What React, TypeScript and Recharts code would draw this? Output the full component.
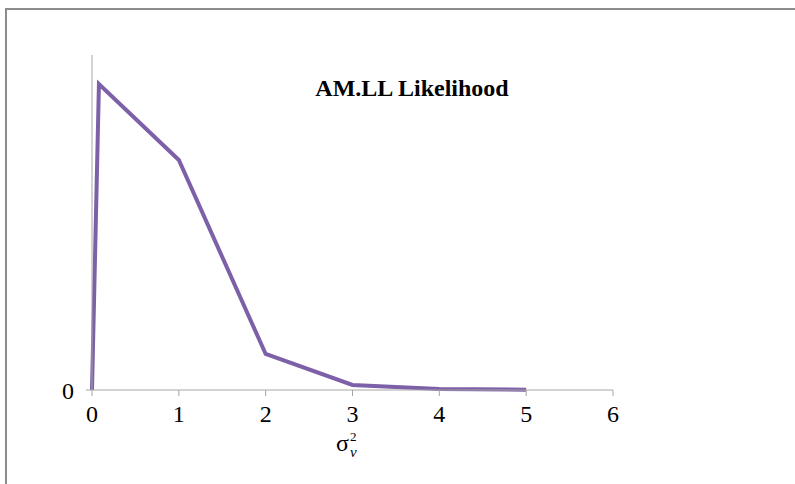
import { CartesianGrid, Line, LineChart, XAxis, YAxis } from "recharts";

const sigmaV = [0, 0.08, 1, 2, 3, 4, 5];
const likelihood = [0, 306, 230, 36, 5, 1, 0.3];
const xTicks = [0, 1, 2, 3, 4, 5, 6];
const yTicks = [0];

const data = sigmaV.map((x, i) => ({ x, y: likelihood[i] }));

const serif = "'Liberation Serif', 'DejaVu Serif', serif";
const axisGray = "#A6A6A6";

export default function App() {
  return (
    <div style={{ position: "absolute", left: 0, top: 0, width: 795, height: 484, overflow: "hidden", background: "#fff" }}>
      <div style={{ position: "absolute", left: 5, top: 8, width: 820, height: 500, border: "2px solid #8c8c8c", boxSizing: "border-box" }} />
      <LineChart width={795} height={484} data={data} margin={{ top: 55, right: 182, bottom: 34, left: 52 }}>
        <CartesianGrid horizontal={false} vertical={false} />
        <XAxis
          dataKey="x"
          type="number"
          domain={[0, 6]}
          ticks={xTicks}
          height={60}
          stroke={axisGray}
          tickSize={6}
          tickMargin={9}
          fontSize={24}
          fontFamily={serif}
          tick={{ fill: "#000", fontFamily: serif, fontSize: 24 }}
        />
        <YAxis
          type="number"
          domain={[0, 335]}
          ticks={yTicks}
          width={40}
          stroke={axisGray}
          tickSize={6}
          tickMargin={12}
          fontSize={24}
          fontFamily={serif}
          tick={{ fill: "#000", fontFamily: serif, fontSize: 24 }}
        />
        <Line
          dataKey="y"
          type="linear"
          stroke="#7D60A8"
          strokeWidth={4}
          dot={false}
          isAnimationActive={false}
        />
      </LineChart>
      <div style={{ position: "absolute", left: 412, top: 74, transform: "translateX(-50%)", fontFamily: serif, fontWeight: "bold", fontSize: 24, lineHeight: "28px", whiteSpace: "nowrap" }}>
        AM.LL Likelihood
      </div>
      <div style={{ position: "absolute", left: 336, top: 429, fontFamily: serif, fontSize: 24, lineHeight: "28px" }}>σ</div>
      <div style={{ position: "absolute", left: 350, top: 431, fontFamily: serif, fontSize: 13, lineHeight: "12px" }}>2</div>
      <div style={{ position: "absolute", left: 350, top: 446, fontFamily: serif, fontSize: 15, lineHeight: "12px", fontStyle: "italic" }}>v</div>
    </div>
  );
}
